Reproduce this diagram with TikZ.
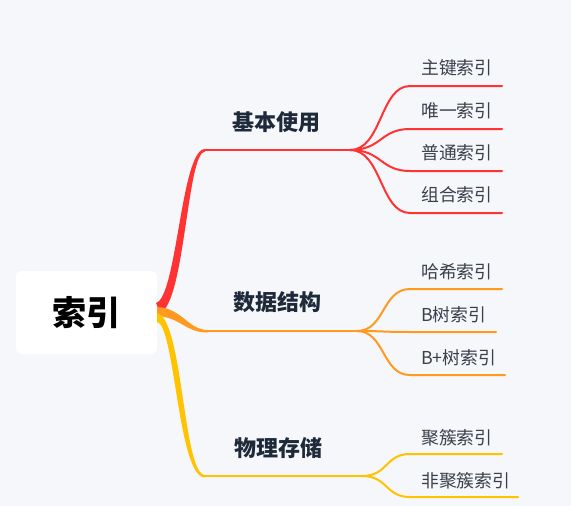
\documentclass[tikz,border=0pt]{standalone}
\usepackage{fontspec}
\newfontfamily\cjk{Noto Sans CJK SC}
\definecolor{bgcol}{HTML}{F6F7FA}
\definecolor{redline}{HTML}{FF3333}
\definecolor{orangeline}{HTML}{FF9A1F}
\definecolor{yellowline}{HTML}{FFC300}
\definecolor{branchtext}{HTML}{1E2A3A}
\definecolor{leaftext}{HTML}{3A404C}
\tikzset{
  rootbox/.style={fill=white, rounded corners=6pt, minimum width=141pt, minimum height=83pt,
    font=\cjk\fontsize{34}{34}\selectfont\bfseries, text=black},
  branchlabel/.style={font=\cjk\fontsize{22}{22}\selectfont\bfseries, text=branchtext},
  leaflabel/.style={anchor=west, font=\cjk\fontsize{17.8}{18}\selectfont, text=leaftext, inner sep=0pt},
  leafline/.style={line width=2pt, line cap=round},
}
\begin{document}
\begin{tikzpicture}[x=1pt, y=-1pt]
  \fill[bgcol] (0,0) rectangle (571,506);
  \useasboundingbox (0,0) rectangle (571,506);
  % root
  \node[rootbox] (root) at (86.5,312.5) {索引};
  % corners and junctions of the three branches
  \coordinate (c1) at (205,150);
  \coordinate (j1) at (350,150);
  \coordinate (c2) at (208,331);
  \coordinate (j2) at (357,331);
  \coordinate (c3) at (205,476);
  \coordinate (j3) at (362,476);
  % tapered trunks
  \fill[redline] (156,303) .. controls (177,297) and (181,149) .. (205,149)
    -- (205,151.5) .. controls (187,152) and (185,303) .. (160,313) -- cycle;
  \fill[orangeline] (157,307) .. controls (182,308) and (188,330) .. (208,330)
    -- (208,332.5) .. controls (186,333) and (180,317) .. (157,316) -- cycle;
  \fill[yellowline] (157,313) .. controls (183,318) and (183,475) .. (205,475)
    -- (205,477.5) .. controls (178,478) and (175,325) .. (157,322) -- cycle;
  \draw[redline, line width=2.5pt] (c1) -- (j1);
  \draw[orangeline, line width=2.5pt] (c2) -- (j2);
  \draw[yellowline, line width=2.5pt] (c3) -- (j3);
  % branch labels
  \node[branchlabel] (b1) at (276,122) {基本使用};
  \node[branchlabel] (b2) at (277,302) {数据结构};
  \node[branchlabel] (b3) at (278,448) {物理存储};
  % leaves
  \foreach \name/\y/\xe/\txt in {l1/86/502/主键索引, l2/129/502/唯一索引,
      l3/171/502/普通索引, l4/213/502/组合索引}{
    \coordinate (\name s) at (410,\y);
    \coordinate (\name e) at (\xe,\y);
    \draw[redline, leafline] (j1) .. controls (382,150) and (380,\y) .. (\name s) -- (\name e);
    \node[leaflabel] (\name) at (421,\y-18) {\txt};
  }
  \foreach \name/\y/\xe/\txt in {l5/289/502/哈希索引, l6/332/496/B树索引, l7/375/505/B+树索引}{
    \coordinate (\name s) at (410,\y);
    \coordinate (\name e) at (\xe,\y);
    \draw[orangeline, leafline] (j2) .. controls (385,331) and (382,\y) .. (\name s) -- (\name e);
    \node[leaflabel] (\name) at (421,\y-17) {\txt};
  }
  \foreach \name/\y/\xe/\txt in {l8/454/502/聚簇索引, l9/497/518/非聚簇索引}{
    \coordinate (\name s) at (410,\y);
    \coordinate (\name e) at (\xe,\y);
    \draw[yellowline, leafline] (j3) .. controls (388,476) and (385,\y) .. (\name s) -- (\name e);
    \node[leaflabel] (\name) at (421,\y-16) {\txt};
  }
\end{tikzpicture}
\end{document}
